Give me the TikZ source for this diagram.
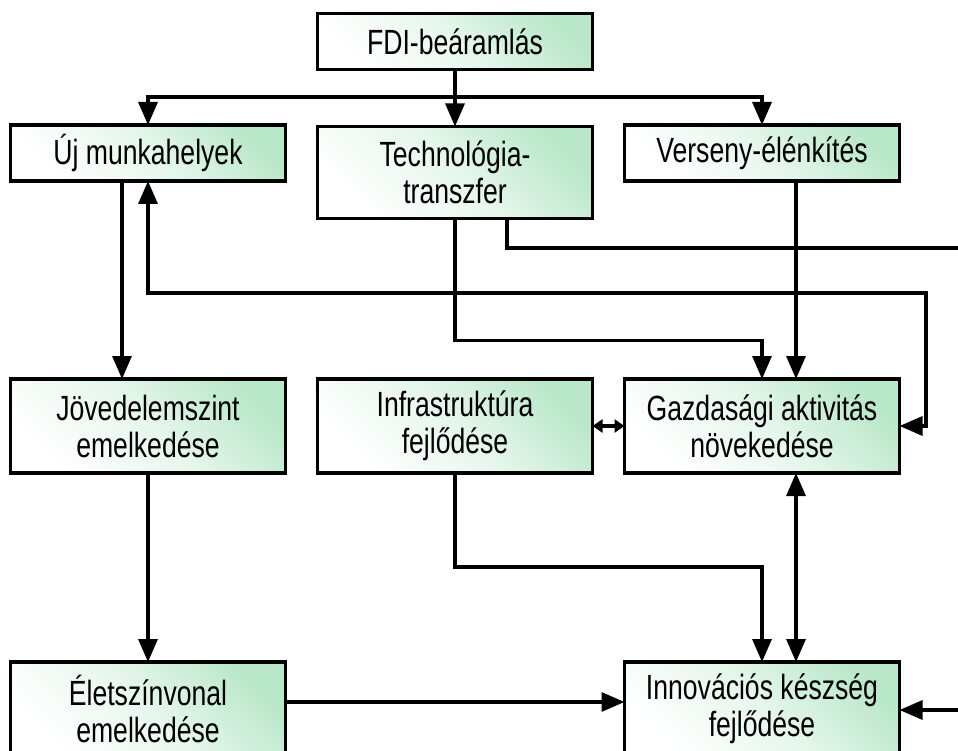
\documentclass[tikz,border=0pt]{standalone}
\usepackage{fontspec}
\setmainfont[FakeStretch=0.76]{Liberation Sans}
\usetikzlibrary{arrows.meta, positioning}

\definecolor{boxgreen}{RGB}{186,232,202}

\begin{document}
\begin{tikzpicture}[
    x=1pt, y=-1pt,
    box/.style={draw, line width=3.2pt, outer sep=0pt, minimum width=275pt, minimum height=56pt, inner sep=2pt, top color=boxgreen, bottom color=white, middle color=boxgreen!35, shading angle=-45, font=\fontsize{35}{37}\selectfont, align=center},
    tallbox/.style={box, minimum height=94pt},
    wire/.style={line width=3.2pt},
    flow/.style={wire, -{Triangle[length=23pt, width=19pt]}},
    dflow/.style={wire, {Triangle[length=23pt, width=19pt]}-{Triangle[length=23pt, width=19pt]}},
    sflow/.style={wire, {Triangle[length=10pt, width=13pt]}-{Triangle[length=10pt, width=13pt]}}
]
    \useasboundingbox (0,0) rectangle (958,751);

    \node[box]     (fdi)     at (455,41.5) {FDI-beáramlás};
    \node[box]     (tech)    [below=57pt of fdi, minimum height=92pt] {Technológia-\\transzfer};
    \node[box]     (uj)      at (148,153) {Új munkahelyek};
    \node[box]     (verseny) at (762,153) {Verseny-élénkítés};
    \node[tallbox] (jov)     [below=198pt of uj] {Jövedelemszint\\emelkedése};
    \node[tallbox] (infra)   [right=32pt of jov] {Infrastruktúra\\fejlődése};
    \node[tallbox] (gazd)    [right=32pt of infra] {Gazdasági aktivitás\\növekedése};
    \node[tallbox] (elet)    [below=189pt of jov] {Életszínvonal\\emelkedése};
    \node[tallbox] (innov)   [below=189pt of gazd] {Innovációs készség\\fejlődése};

    \coordinate (branch)  at (455,97);
    \coordinate (techout) at (958,248);
    \coordinate (loop)    at (926,293);
    \coordinate (innovin) at (958,710);

    \draw[flow] (fdi) -- (tech);
    \draw[flow] (branch) -| (uj.north);
    \draw[flow] (branch) -| (verseny.north);
    \draw[flow] (tech.south) -- ++(0,122) -| (gazd.north);
    \draw[wire] ([xshift=52pt]tech.south) |- (techout);
    \draw[flow] ([xshift=34pt]verseny.south) -- ([xshift=34pt]gazd.north);
    \draw[dflow] (uj.south) |- (loop) |- (gazd.east);
    \draw[flow] ([xshift=-26pt]uj.south) -- ([xshift=-26pt]jov.north);
    \draw[flow] (jov) -- (elet);
    \draw[sflow] (infra) -- (gazd);
    \draw[flow] (infra.south) -- ++(0,94) -| (innov.north);
    \draw[dflow] ([xshift=34pt]gazd.south) -- ([xshift=34pt]innov.north);
    \draw[flow] ([yshift=7pt]elet.east) -- ([yshift=7pt]innov.west);
    \draw[flow] (innovin) -- (innovin -| innov.east);

\end{tikzpicture}
\end{document}
